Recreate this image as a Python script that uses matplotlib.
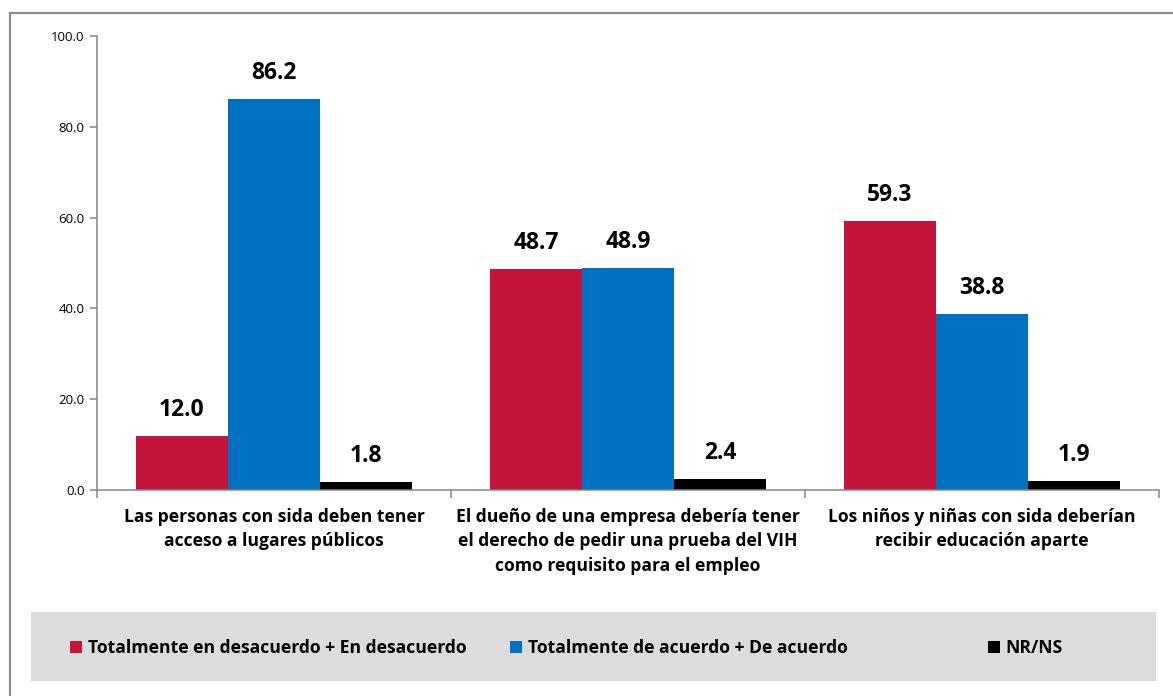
import matplotlib.pyplot as plt
from matplotlib.patches import Rectangle
from matplotlib.ticker import FormatStrFormatter, FixedLocator
import numpy as np

categories = [
    "Las personas con sida deben tener\nacceso a lugares públicos",
    "El dueño de una empresa debería tener\nel derecho de pedir una prueba del VIH\ncomo requisito para el empleo",
    "Los niños y niñas con sida deberían\nrecibir educación aparte",
]
series_names = [
    "Totalmente en desacuerdo + En desacuerdo",
    "Totalmente de acuerdo + De acuerdo",
    "NR/NS",
]
desacuerdo = [12.0, 48.7, 59.3]
acuerdo = [86.2, 48.9, 38.8]
nrns = [1.8, 2.4, 1.9]
colors = ["#C4143C", "#0070C0", "#000000"]

plt.rcParams['font.family'] = ['Open Sans', 'DejaVu Sans']

W, H = 1173, 696
fig = plt.figure(figsize=(W / 100, H / 100), dpi=100)
ax = fig.add_axes([97 / W, 1 - 490 / H, (1159 - 97) / W, (490 - 36) / H])

x = np.arange(len(categories))
width = 0.26
for i, (vals, col) in enumerate(zip([desacuerdo, acuerdo, nrns], colors)):
    bars = ax.bar(x + (i - 1) * width, vals, width, color=col, label=series_names[i])
    for b, v in zip(bars, vals):
        ax.annotate(f"{v:.1f}", (b.get_x() + b.get_width() / 2, v),
                    xytext=(0, 10), textcoords='offset points',
                    ha='center', va='bottom', fontsize=16.5, fontweight='bold')

ax.set_xlim(-0.5, 2.5)
ax.set_ylim(0, 100)
ax.set_yticks(np.arange(0, 101, 20))
ax.yaxis.set_major_formatter(FormatStrFormatter('%.1f'))
ax.set_xticks(x)
ax.set_xticklabels(categories, fontsize=12.6, fontweight='bold', linespacing=1.45)
ax.xaxis.set_minor_locator(FixedLocator([-0.5, 0.5, 1.5, 2.5]))
ax.tick_params(axis='x', which='major', length=0, pad=13)
ax.tick_params(axis='x', which='minor', length=6, width=1.1, color='#868686', direction='out')
ax.tick_params(axis='y', length=5, width=1.1, color='#868686', labelsize=9.5, pad=4)

for s in ['top', 'right']:
    ax.spines[s].set_visible(False)
for s in ['left', 'bottom']:
    ax.spines[s].set_color('#868686')
    ax.spines[s].set_linewidth(1.1)

# legend background box
fig.patches.append(Rectangle((31 / W, 1 - 681 / H), (1156 - 31) / W, (681 - 612) / H,
                             transform=fig.transFigure, facecolor='#DCDCDC',
                             edgecolor='none', zorder=0))
# outer border
fig.patches.append(Rectangle((10 / W, -0.05), 1.1, 1 - 13 / H + 0.05,
                             transform=fig.transFigure, facecolor='none',
                             edgecolor='#8C8C8C', linewidth=1.6, zorder=0))

handles = ax.get_legend_handles_labels()[0]
xs = [70, 510, 988]
for h, name, xp in zip(handles, series_names, xs):
    fig.legend([h], [name], loc='center left', bbox_to_anchor=(xp / W, 1 - 648 / H),
               frameon=False, prop={'weight': 'bold', 'size': 12.6},
               handlelength=0.7, handleheight=0.7, handletextpad=0.3,
               borderpad=0, borderaxespad=0)

fig.savefig('out.png', dpi=100)
